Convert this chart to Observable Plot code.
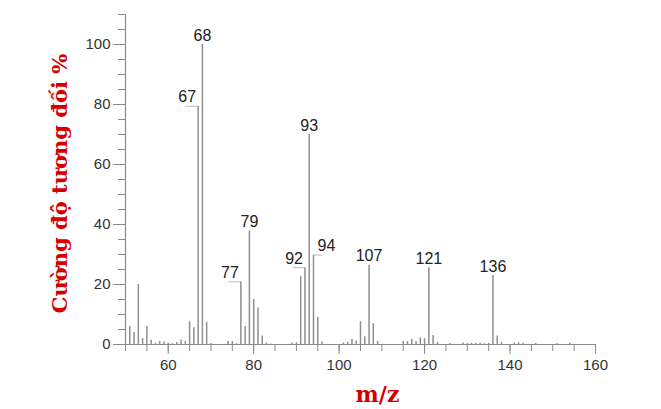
<!DOCTYPE html>
<html><head><meta charset="utf-8">
<script src="https://cdn.jsdelivr.net/npm/d3@7"></script>
<script src="https://cdn.jsdelivr.net/npm/@observablehq/plot@0.6"></script>
<style>body{margin:0;background:#fff}</style>
</head><body><div id="chart"></div>
<script>
// m/z values and relative intensities (%)
const mz = [51,52,53,54,55,56,57,58,59,60,61,62,63,64,65,66,67,68,69,70,
  74,75,76,77,78,79,80,81,82,83,84,89,90,91,92,93,94,95,96,
  101,102,103,104,105,106,107,108,109,115,116,117,118,119,120,121,122,123,
  126,129,130,131,132,133,134,135,136,137,138,141,142,143,146,151,154];
const intensity = [6,4,20,2,6,1.4,0.4,1,0.8,0.4,0.3,0.7,1.5,1,7.6,5.6,79.4,100,7.4,0.3,
  1,1,0.3,20.9,6,37.8,15,12.2,2.8,0.5,0.2,0.5,0.6,22.6,25.6,70,29.8,9,0.8,
  0.5,0.7,1.7,1.2,7.6,2.6,26.4,7,1,1,1,1.7,1,2.2,1.9,25.6,3,0.7,
  0.3,0.5,0.3,0.4,0.3,0.4,0.3,0.4,23,2.8,0.7,0.5,0.6,0.4,0.3,0.3,0.4];

const xDomain = [50, 160];
const yDomain = [0, 110];
const xTicks = [60, 80, 100, 120, 140, 160];
const xMinorTicks = d3.range(50, 161, 5);
const yTicks = [0, 20, 40, 60, 80, 100];
const yMinorTicks = d3.range(0, 111, 5);

const labelTop = [68, 79, 93, 107, 121, 136];
const labelLeft = [67, 77, 92];
const labelRight = [94];

const yTitle = "Cường độ tương đối %";
const xTitle = "m/z";

const peaks = mz.map((m, i) => ({mz: m, intensity: intensity[i]}));
const byMz = new Map(peaks.map(d => [d.mz, d]));
const pick = arr => arr.map(m => byMz.get(m));

const axisColor = "#8a8a8a";
const peakColor = "#8f8f8f";
const leaderColor = "#bdbdbd";
const labelFont = "'Liberation Sans', Arial, sans-serif";
const titleFont = "'DejaVu Serif', serif";
const titleColor = "#d40000";

const chart = Plot.plot({
  width: 661, height: 409,
  marginLeft: 125, marginRight: 66, marginTop: 14, marginBottom: 65,
  x: {domain: xDomain},
  y: {domain: yDomain},
  style: {fontFamily: labelFont, background: "#fff", overflow: "visible"},
  marks: [
    Plot.axisY({ticks: yMinorTicks, tickSize: 7, text: null, stroke: axisColor, label: null}),
    Plot.axisY({ticks: yTicks, tickSize: 12, tickPadding: 3, fontSize: 15, fill: "#333", stroke: axisColor, label: null}),
    Plot.axisX({ticks: xMinorTicks, tickSize: 7, text: null, stroke: axisColor, label: null}),
    Plot.axisX({ticks: xTicks, tickSize: 10, tickPadding: 5, fontSize: 15, fill: "#333", stroke: axisColor, label: null}),
    Plot.ruleX([xDomain[0]], {stroke: axisColor, strokeWidth: 1.2}),
    Plot.ruleY([yDomain[0]], {stroke: axisColor, strokeWidth: 1.2}),
    Plot.ruleX(peaks, {x: "mz", y: "intensity", stroke: peakColor, strokeWidth: 1.5}),
    // leader lines
    Plot.ruleY(pick(labelLeft), {y: "intensity", x1: d => d.mz - 2.8, x2: "mz", stroke: leaderColor, strokeWidth: 1}),
    Plot.ruleY(pick(labelRight), {y: "intensity", x1: "mz", x2: d => d.mz + 2.2, stroke: leaderColor, strokeWidth: 1}),
    // peak labels
    Plot.text(pick(labelTop), {x: "mz", y: "intensity", text: d => String(d.mz), lineAnchor: "bottom", dy: -4, fontSize: 16, fill: "#222"}),
    Plot.text(pick(labelLeft), {x: "mz", y: "intensity", text: d => String(d.mz), lineAnchor: "bottom", textAnchor: "end", dx: -2, dy: -4, fontSize: 16, fill: "#222"}),
    Plot.text(pick(labelRight), {x: "mz", y: "intensity", text: d => String(d.mz), lineAnchor: "bottom", textAnchor: "start", dx: 4, dy: -4, fontSize: 16, fill: "#222"}),
    // axis titles
    Plot.text([yTitle], {frameAnchor: "left", text: d => d, rotate: -90, textAnchor: "middle", lineAnchor: "middle", dx: -65, dy: 4, fontSize: 21, fontWeight: "bold", fontFamily: titleFont, fill: titleColor}),
    Plot.text([xTitle], {frameAnchor: "bottom", text: d => d, textAnchor: "middle", lineAnchor: "middle", dx: 17, dy: 50, fontSize: 22, fontWeight: "bold", fontFamily: titleFont, fill: titleColor})
  ]
});
document.getElementById("chart").appendChild(chart);
</script>
</body></html>
